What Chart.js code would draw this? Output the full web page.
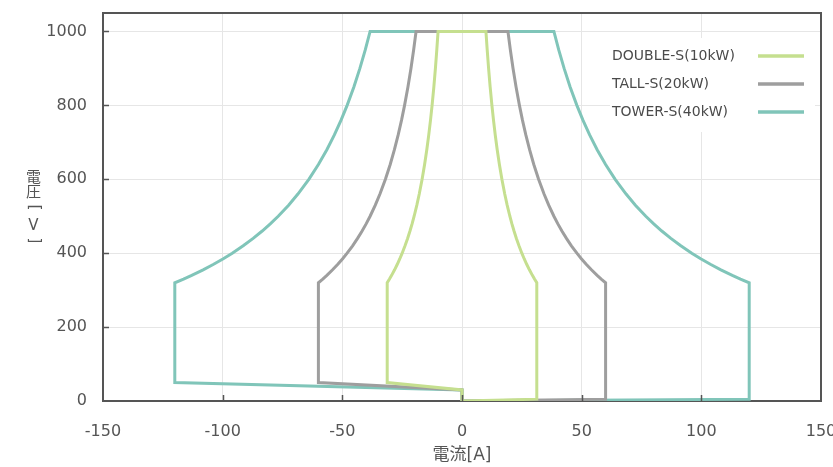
<!DOCTYPE html>
<html>
<head>
<meta charset="utf-8">
<script src="https://cdn.jsdelivr.net/npm/chart.js@4.4.0/dist/chart.umd.min.js"></script>
<style>
  html, body { margin: 0; padding: 0; background: #fff; }
  #contenedor { width: 833px; height: 467px; }
</style>
</head>
<body>
<div id="contenedor"><canvas id="grafico"></canvas></div>
<script>
// Nombres de las series
const nombres = ['DOUBLE-S(10kW)', 'TALL-S(20kW)', 'TOWER-S(40kW)'];
// Tensiones de la curva de potencia constante [V]
const tensionCurva = [320, 330, 340, 355, 370, 385, 400, 420, 440, 460, 480, 500, 530, 560, 600, 640, 680, 720, 760, 800, 850, 900, 950, 1000];
// Corriente de cada serie en esas tensiones [A]
const corrienteDouble = [31.25, 30.30, 29.41, 28.17, 27.03, 25.97, 25.00, 23.81, 22.73, 21.74, 20.83, 20.00, 18.87, 17.86, 16.67, 15.63, 14.71, 13.89, 13.16, 12.50, 11.76, 11.11, 10.53, 10.00];
const corrienteTall = [60.0, 58.18, 56.47, 54.08, 51.89, 49.87, 48.0, 45.71, 43.64, 41.74, 40.0, 38.4, 36.23, 34.29, 32.0, 30.0, 28.24, 26.67, 25.26, 24.0, 22.59, 21.33, 20.21, 19.2];
const corrienteTower = [120.0, 116.36, 112.94, 108.17, 103.78, 99.74, 96.0, 91.43, 87.27, 83.48, 80.0, 76.8, 72.45, 68.57, 64.0, 60.0, 56.47, 53.33, 50.53, 48.0, 45.18, 42.67, 40.42, 38.4];
// Parte baja del contorno [V]
const tensionBaseDerecha = 5;    // en +Imax
const tensionBaseIzquierda = 50; // en -Imax
const tensionCentro = 30;        // en 0 A
// Ticks
const ticksX = [-150, -100, -50, 0, 50, 100, 150];
const ticksY = [0, 200, 400, 600, 800, 1000];

const colores = ['#c5df8f', '#9e9e9e', '#80c5b9'];
const colorTexto = '#555';
const fuente = "'DejaVu Sans', 'Noto Sans CJK JP', sans-serif";

// Construye el contorno cerrado de una serie
function contorno(corriente) {
  const imax = corriente[0];
  const puntos = [{x: 0, y: 0}, {x: imax, y: tensionBaseDerecha}];
  for (let i = 0; i < tensionCurva.length; i++) {
    puntos.push({x: corriente[i], y: tensionCurva[i]});
  }
  for (let i = tensionCurva.length - 1; i >= 0; i--) {
    puntos.push({x: -corriente[i], y: tensionCurva[i]});
  }
  puntos.push({x: -imax, y: tensionBaseIzquierda});
  puntos.push({x: 0, y: tensionCentro});
  puntos.push({x: 0, y: 0});
  return puntos;
}

const series = [corrienteDouble, corrienteTall, corrienteTower];

const datos = {
  datasets: series.map((c, i) => ({
    label: nombres[i],
    data: contorno(c),
    borderColor: colores[i],
    backgroundColor: colores[i],
    borderWidth: 3,
    pointRadius: 0,
    showLine: true,
    tension: 0,
    fill: false
  }))
};

// Marco, ticks hacia dentro, titulo vertical y leyenda
const marco = {
  id: 'marco',
  afterDraw(chart) {
    const ctx = chart.ctx;
    const area = chart.chartArea;
    const sx = chart.scales.x, sy = chart.scales.y;
    ctx.save();
    ctx.setTransform(1, 0, 0, 1, 0, 0);
    ctx.strokeStyle = '#555';
    ctx.lineWidth = 2;
    ctx.beginPath();
    ctx.moveTo(area.left, area.top);
    ctx.lineTo(area.right, area.top);
    ctx.lineTo(area.right, area.bottom);
    ctx.stroke();

    // ticks hacia dentro
    ctx.lineWidth = 1.5;
    ctx.beginPath();
    ticksX.slice(1, -1).forEach(v => {
      const px = Math.round(sx.getPixelForValue(v)) + 0.5;
      ctx.moveTo(px, area.bottom);
      ctx.lineTo(px, area.bottom - 6);
    });
    ticksY.slice(1).forEach(v => {
      const py = Math.round(sy.getPixelForValue(v)) + 0.5;
      ctx.moveTo(area.left, py);
      ctx.lineTo(area.left + 6, py);
    });
    ctx.stroke();

    // titulo del eje Y, escrito en vertical
    const titulo = ['電', '圧', '[', 'V', ']'];
    const posY = [178.5, 193.5, 207.5, 226.5, 240.5];
    ctx.fillStyle = colorTexto;
    ctx.font = '15px ' + fuente;
    ctx.textAlign = 'center';
    ctx.textBaseline = 'middle';
    for (let i = 0; i < titulo.length; i++) {
      const ch = titulo[i];
      if (ch === '[' || ch === ']') {
        ctx.save();
        ctx.translate(33.5, posY[i]);
        ctx.rotate(Math.PI / 2);
        ctx.fillText(ch, 0, 0);
        ctx.restore();
      } else {
        ctx.fillText(ch, 33.5, posY[i]);
      }
    }

    // leyenda
    const lx = area.right - 211, ly = area.top + 25;
    ctx.fillStyle = '#fff';
    ctx.fillRect(lx, ly, 205, 94);
    ctx.font = '14px ' + fuente;
    ctx.textAlign = 'left';
    nombres.forEach((n, i) => {
      const y = ly + 18 + i * 28;
      ctx.fillStyle = '#4a4a4a';
      ctx.fillText(n, lx + 2, y);
      ctx.strokeStyle = colores[i];
      ctx.lineWidth = 3.5;
      ctx.beginPath();
      ctx.moveTo(lx + 148, y);
      ctx.lineTo(lx + 194, y);
      ctx.stroke();
    });
    ctx.restore();
  }
};

const config = {
  type: 'scatter',
  data: datos,
  options: {
    responsive: true,
    maintainAspectRatio: false,
    animation: false,
    layout: { padding: { top: 13, right: 12, left: 0, bottom: 0 } },
    plugins: {
      legend: { display: false },
      tooltip: { enabled: false }
    },
    scales: {
      x: {
        type: 'linear',
        min: -150,
        max: 150,
        afterBuildTicks: (s) => { s.ticks = ticksX.map(v => ({value: v})); },
        afterFit: (s) => { s.height = 66; s.paddingLeft = 0; s.paddingRight = 0; },
        grid: { color: '#e6e6e6', lineWidth: 1, drawTicks: false },
        border: { color: '#555', width: 2 },
        ticks: {
          color: colorTexto,
          font: { family: fuente, size: 16 },
          padding: 21,
          maxRotation: 0,
          callback: (v) => String(v)
        },
        title: {
          display: true,
          text: '電流[A]',
          color: colorTexto,
          font: { family: fuente, size: 17 },
          padding: { top: 0, bottom: 1 }
        }
      },
      y: {
        type: 'linear',
        min: 0,
        max: 1050,
        afterBuildTicks: (s) => { s.ticks = ticksY.map(v => ({value: v})); },
        afterFit: (s) => { s.width = 103; s.paddingTop = 0; s.paddingBottom = 0; },
        grid: { color: '#e6e6e6', lineWidth: 1, drawTicks: false },
        border: { color: '#555', width: 2 },
        ticks: {
          color: colorTexto,
          font: { family: fuente, size: 16 },
          padding: 16,
          callback: (v) => String(v)
        }
      }
    }
  },
  plugins: [marco]
};

new Chart(document.getElementById('grafico'), config);
</script>
</body>
</html>
